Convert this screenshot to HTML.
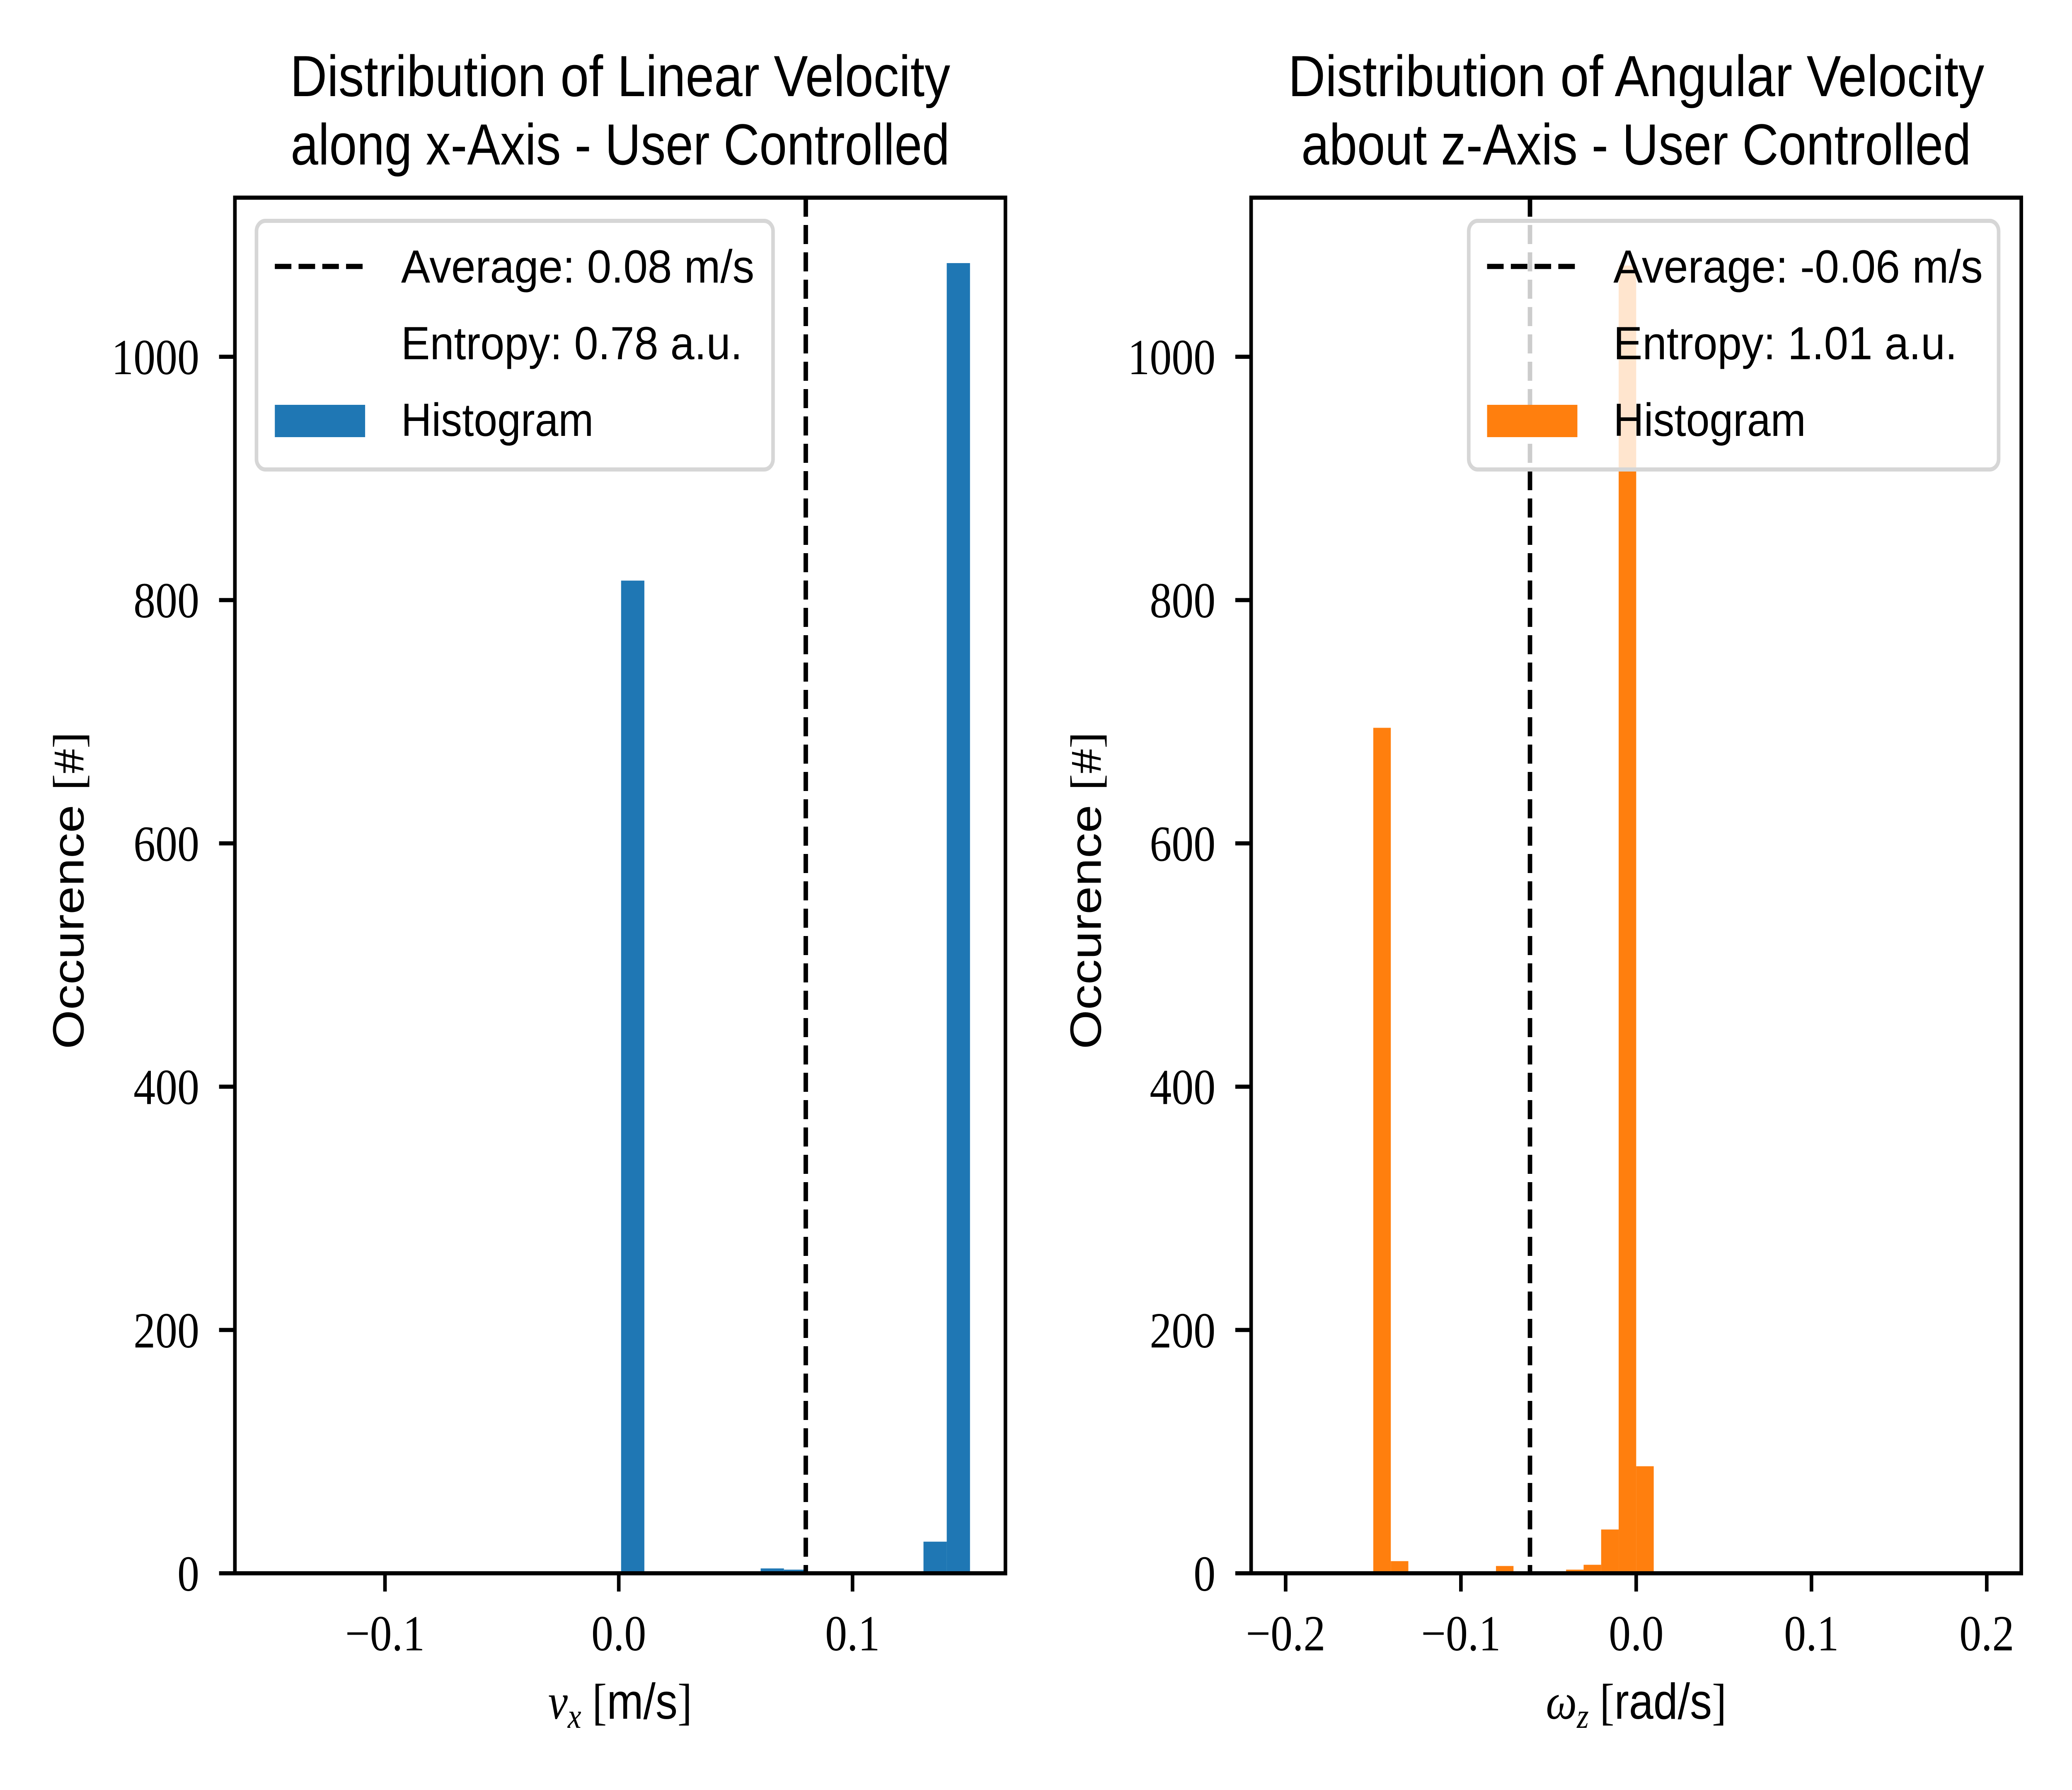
<!DOCTYPE html>
<html><head><meta charset="utf-8"><style>html,body{margin:0;padding:0;background:#fff;width:100%;height:100%;overflow:hidden}svg{display:block;width:100vw;height:100vh}</style></head>
<body>
<svg id="fig" xmlns="http://www.w3.org/2000/svg" viewBox="0 0 5760 4320" preserveAspectRatio="none">
<rect width="5760" height="4320" fill="#fff"/>
</svg>
<script>
// Left histogram data
const leftEdgesStart = 0.001;
const leftBinWidth = 0.00995;
const leftCounts = [816,0,0,0,0,0,4,3,0,0,0,0,0,26,1077];
const leftAverage = 0.08;
const leftXTicks = [-0.1, 0.0, 0.1];
const leftXTickLabels = ["\u22120.1","0.0","0.1"];
// Right histogram data
const rightEdgesStart = -0.15;
const rightBinWidth = 0.01;
const rightCounts = [695,10,0,0,0,0,0,6,1,0,0,3,7,36,1075,88];
const rightAverage = -0.0606;
const rightXTicks = [-0.2,-0.1,0.0,0.1,0.2];
const rightXTickLabels = ["\u22120.2","\u22120.1","0.0","0.1","0.2"];
const yTicks = [0,200,400,600,800,1000];
const yTickLabels = ["0","200","400","600","800","1000"];

const NS="http://www.w3.org/2000/svg";
const svg=document.getElementById('fig');
function mk(tag,attrs,parent,text){const e=document.createElementNS(NS,tag);for(const k in attrs)e.setAttribute(k,attrs[k]);if(text!==undefined)e.textContent=text;(parent||svg).appendChild(e);return e;}

const yTop=477,yBot=3797,yMax=1130.8;
function yScale(v){return yBot-(v/yMax)*(yBot-yTop);}

function panel(o){
  const g=mk('g',{});
  
  
  const xs=v=>o.x0+(v-o.xmin)/(o.xmax-o.xmin)*(o.x1-o.x0);
  o.counts.forEach((c,i)=>{
    if(c<=0)return;
    const a=xs(o.start+i*o.bw),b=xs(o.start+(i+1)*o.bw);
    const r=mk('rect',{x:a,y:yScale(c),width:b-a,height:yBot-yScale(c),fill:o.color},g);
    
    
  });
  const ax=xs(o.avg);
  const al=mk('line',{x1:ax,x2:ax,y1:yTop,y2:yBot,stroke:'#000','stroke-width':12.5,'stroke-dasharray':'46 20'},g);
  
  
  const fr=mk('rect',{x:o.x0,y:yTop,width:o.x1-o.x0,height:yBot-yTop,fill:'none',stroke:'#000','stroke-width':10},g);
  
  
  yTicks.forEach((t,i)=>{
    const y=yScale(t);
    mk('line',{x1:o.x0-44,x2:o.x0,y1:y,y2:y,stroke:'#000','stroke-width':10},g);
    const tx=mk('text',{x:o.x0-99,y:y+42,'text-anchor':'end','font-family':'Liberation Serif, serif','font-size':122},g,yTickLabels[i]);
    
    
  });
  o.xt.forEach((t,i)=>{
    const x=xs(t);
    mk('line',{x1:x,x2:x,y1:yBot,y2:yBot+44,stroke:'#000','stroke-width':10},g);
    const tx=mk('text',{x:x,y:3983,'text-anchor':'middle','font-family':'Liberation Serif, serif','font-size':122},g,o.xtl[i]);
    
    
  });
  const cx=(o.x0+o.x1)/2;
  const t1=mk('text',{x:cx,y:232,'text-anchor':'middle','font-family':'Liberation Sans, sans-serif','font-size':140,textLength:o.tw1,lengthAdjust:'spacingAndGlyphs'},g,o.t1);
  
  
  const t2=mk('text',{x:cx,y:397,'text-anchor':'middle','font-family':'Liberation Sans, sans-serif','font-size':140,textLength:o.tw2,lengthAdjust:'spacingAndGlyphs'},g,o.t2);
  
  
  const xl=mk('text',{x:cx,y:4148,'text-anchor':'middle','font-size':122},g);
  
  
  mk('tspan',{'font-family':'Liberation Serif, serif','font-style':'italic'},xl,o.xsym);
  mk('tspan',{'font-family':'Liberation Serif, serif','font-style':'italic','font-size':85,dy:22},xl,o.xsub);
  mk('tspan',{'font-family':'Liberation Serif, serif',dy:-22},xl,' [');
  mk('tspan',{'font-family':'Liberation Sans, sans-serif'},xl,o.unit);
  mk('tspan',{'font-family':'Liberation Serif, serif'},xl,']');
  const yl=mk('text',{x:0,y:0,'text-anchor':'middle','font-family':'Liberation Sans, sans-serif','font-size':122,transform:`translate(${o.ylx},2149) rotate(-90)`},g);
  
  
  mk('tspan',{},yl,'Occurence ');
  mk('tspan',{'font-family':'Liberation Serif, serif'},yl,'[#]');
  const lg=mk('g',{},g);
  
  
  mk('rect',{x:o.lx0,y:533,width:o.lx1-o.lx0,height:600,rx:25,fill:'#fff','fill-opacity':0.8,stroke:'#d6d6d6','stroke-width':10},lg);
  const hx=o.lx0+51;
  const l1=mk('line',{x1:hx,x2:hx+251,y1:643,y2:643,stroke:'#000','stroke-width':12.5,'stroke-dasharray':'46 20'},lg);
  
  
  const sw=mk('rect',{x:hx,y:977,width:251,height:78,fill:o.color},lg);
  
  
  const tx0=hx+351;
  [[o.l1,682,o.lw1],[o.l2,867,o.lw2],['Histogram',1052,535]].forEach(([s,y,w])=>{
    const e=mk('text',{x:tx0,y:y,'font-family':'Liberation Sans, sans-serif','font-size':112,textLength:w,lengthAdjust:'spacingAndGlyphs'},lg,s);
    
    
  });
}

panel({name:'linear-velocity-panel',x0:653,x1:2795,xmin:-0.1642,xmax:0.1654,counts:leftCounts,start:leftEdgesStart,bw:leftBinWidth,
  color:'#1f77b4',avg:leftAverage,xt:leftXTicks,xtl:leftXTickLabels,
  t1:'Distribution of Linear Velocity',t2:'along x-Axis - User Controlled',tw1:1835,tw2:1832,
  xsym:'v',xsub:'x',unit:'m/s',ylx:232,lx0:713,lx1:2149,
  l1:'Average:  0.08 m/s',l2:'Entropy:  0.78 a.u.',lw1:982,lw2:949});
panel({name:'angular-velocity-panel',x0:3478,x1:5619,xmin:-0.2197,xmax:0.2197,counts:rightCounts,start:rightEdgesStart,bw:rightBinWidth,
  color:'#ff7f0e',avg:rightAverage,xt:rightXTicks,xtl:rightXTickLabels,
  t1:'Distribution of Angular Velocity',t2:'about z-Axis - User Controlled',tw1:1935,tw2:1862,
  xsym:'\u03c9',xsub:'z',unit:'rad/s',ylx:3060,lx0:4083,lx1:5556,
  l1:'Average:  -0.06 m/s',l2:'Entropy:  1.01 a.u.',lw1:1027,lw2:956});
</script>
</body></html>
